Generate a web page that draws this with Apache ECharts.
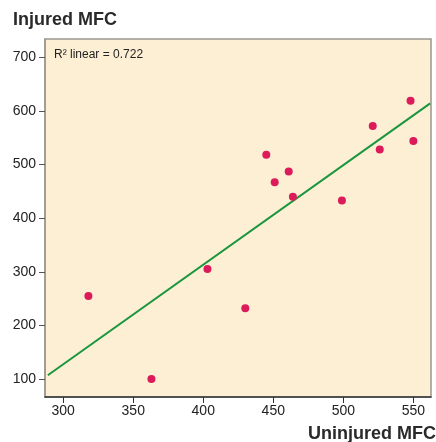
<!DOCTYPE html>
<html><head><meta charset="utf-8">
<script src="https://cdn.jsdelivr.net/npm/echarts@6/dist/echarts.min.js"></script>
<style>html,body{margin:0;padding:0;background:#fff}#c{width:436px;height:442px}</style>
</head><body><div id="c"></div>
<script>
var uninjured = [318, 363, 403, 430, 445, 461, 451, 464, 499, 521, 526, 548, 550];
var injured   = [255, 100, 305, 232, 518, 487, 467, 440, 433, 572, 528, 619, 544];
var fitX = [289, 562];
var fitY = [107, 614];
var xTicks = [300, 350, 400, 450, 500, 550];
var yTicks = [100, 200, 300, 400, 500, 600, 700];
var r2Label = 'R² linear = 0.722';
var yTitle = 'Injured MFC';
var xTitle = 'Uninjured MFC';

var pts = uninjured.map(function (x, i) { return [x, injured[i]]; });
var fit = fitX.map(function (x, i) { return [x, fitY[i]]; });
var font = 'Liberation Sans, Arial, sans-serif';

var chart = echarts.init(document.getElementById('c'));
chart.setOption({
  animation: false,
  backgroundColor: '#ffffff',
  grid: { left: 45, right: 5, top: 39, bottom: 45, show: true,
    backgroundColor: '#fdefd3', borderColor: '#9b968e', borderWidth: 1.5 },
  graphic: [
    { type: 'text', x: 13, y: 20.5, z: 10,
      style: { text: yTitle, fontFamily: font, fontSize: 18, fontWeight: 'bold', fill: '#2a2a2a',
        verticalAlign: 'middle', align: 'left' } },
    { type: 'text', x: 436, y: 434, z: 10,
      style: { text: xTitle, fontFamily: font, fontSize: 18, fontWeight: 'bold', fill: '#2a2a2a',
        verticalAlign: 'middle', align: 'right' } },
    { type: 'text', x: 54, y: 55, z: 10,
      style: { text: r2Label, fontFamily: font, fontSize: 12, fill: '#222',
        verticalAlign: 'middle', align: 'left' } }
  ],
  xAxis: {
    type: 'value', min: 287, max: 562.6,
    axisLine: { show: true, lineStyle: { color: '#333', width: 1.5 } },
    axisTick: { show: true, length: 6, customValues: xTicks, lineStyle: { color: '#333' } },
    axisLabel: { customValues: xTicks, fontFamily: font, fontSize: 14, color: '#222', margin: 7 },
    splitLine: { show: false }
  },
  yAxis: {
    type: 'value', min: 66.5, max: 734,
    axisLine: { show: true, lineStyle: { color: '#9b968e', width: 1.5 } },
    axisTick: { show: true, length: 6, customValues: yTicks, lineStyle: { color: '#555' } },
    axisLabel: { customValues: yTicks, fontFamily: font, fontSize: 14, color: '#222', margin: 9 },
    splitLine: { show: false }
  },
  series: [
    { type: 'line', data: fit, symbol: 'none', silent: true,
      lineStyle: { color: '#1a9641', width: 2 }, z: 2 },
    { type: 'scatter', data: pts, symbolSize: 8,
      itemStyle: { color: '#dc1b5a', opacity: 1 }, z: 3 }
  ]
});
</script></body></html>
